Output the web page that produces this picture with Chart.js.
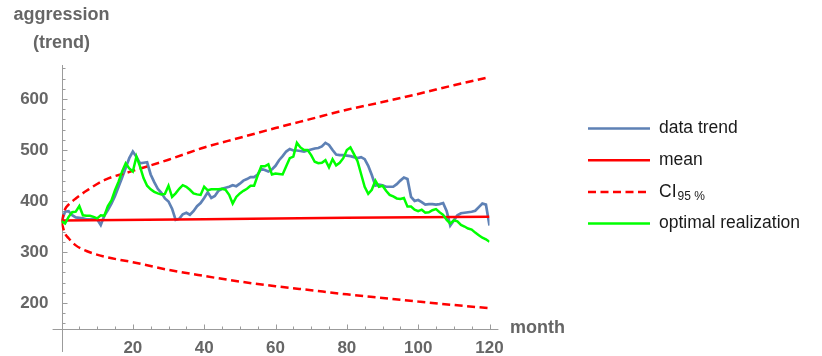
<!DOCTYPE html>
<html>
<head>
<meta charset="utf-8">
<script src="https://cdn.jsdelivr.net/npm/chart.js@4.4.1/dist/chart.umd.min.js"></script>
<style>
  html, body { margin: 0; padding: 0; background: #fff; }
  #wrap { width: 822px; height: 356px; }
</style>
</head>
<body>
<div id="wrap"><canvas id="chart" width="822" height="356"></canvas></div>
<script>
// --- values ---
const months = [
  0, 1, 2, 3, 4, 5, 6, 7, 8, 9, 10, 11, 12, 13, 14, 15, 16, 17, 18, 19,
  20, 21, 22, 23, 24, 25, 26, 27, 28, 29, 30, 31, 32, 33, 34, 35, 36, 37, 38, 39,
  40, 41, 42, 43, 44, 45, 46, 47, 48, 49, 50, 51, 52, 53, 54, 55, 56, 57, 58, 59,
  60, 61, 62, 63, 64, 65, 66, 67, 68, 69, 70, 71, 72, 73, 74, 75, 76, 77, 78, 79,
  80, 81, 82, 83, 84, 85, 86, 87, 88, 89, 90, 91, 92, 93, 94, 95, 96, 97, 98, 99,
  100, 101, 102, 103, 104, 105, 106, 107, 108, 109, 110, 111, 112, 113, 114, 115, 116, 117, 118, 119,
  120
];

const dataTrend = [
  360, 379, 380, 372, 368, 367, 366, 364, 364, 365, 364, 353, 371, 382, 395, 410, 428, 446, 465, 484,
  497, 487, 474, 475, 476, 452, 437, 424, 416, 405, 399, 385, 363, 365, 374, 377, 373, 380, 390, 396,
  406, 417, 406, 410, 420, 424, 426, 428, 431, 429, 434, 440, 443, 447, 447, 452, 463, 461, 458, 462,
  469, 480, 488, 497, 502, 499, 499, 498, 497, 499, 501, 503, 504, 507, 514, 510, 500, 491, 490, 490,
  489, 488, 486, 484, 486, 482, 469, 451, 430, 432, 431, 428, 428, 428, 433, 440, 446, 443, 408, 400,
  402, 398, 393, 394, 394, 393, 394, 396, 380, 352, 362, 372, 376, 377, 378, 379, 381, 388, 395, 393,
  352
];

const optimalRealization = [
  360, 356, 369, 378, 379, 390, 372, 371, 371, 369, 366, 372, 371, 390, 401, 421, 438, 458, 474, 464,
  458, 487, 468, 445, 430, 423, 418, 415, 413, 414, 430, 408, 415, 424, 431, 428, 422, 415, 413, 412,
  428, 421, 423, 423, 423, 424, 422, 412, 395, 408, 415, 420, 424, 430, 430, 450, 468, 468, 472, 452,
  454, 453, 452, 468, 484, 487, 514, 505, 500, 500, 490, 477, 474, 475, 480, 466, 482, 470, 475, 484,
  500, 505, 492, 478, 453, 428, 414, 422, 440, 428, 430, 420, 412, 409, 405, 404, 406, 389, 389, 383,
  380, 383, 377, 378, 382, 384, 378, 373, 363, 356, 362, 360, 353, 350, 346, 344, 338, 333, 328, 325,
  320
];

const meanMonths = [0, 40, 80, 120];
const meanValues = [362, 364, 367, 369];

const ciMonths = [0, 1, 2, 4, 7, 12, 20, 30, 40, 50, 60, 70, 80, 90, 100, 110, 120];
const ciUpper  = [358, 384, 393, 405, 420, 441, 459, 481, 505, 524, 543, 561, 579, 594, 610, 627, 643];
const ciLower  = [358, 336, 327, 313, 302, 291, 280, 265, 253, 242, 233, 225, 217, 210, 203, 196, 190];

const xTickLabels = [20, 40, 60, 80, 100, 120];
const yTickLabels = [200, 300, 400, 500, 600];

// --- styling ---
const BLUE = '#5e81b5';
const RED = '#ff0000';
const GREEN = '#00ff00';
const AXIS_GRAY = '#9b9b9b';
const LABEL_GRAY = '#666666';
const DASH = [8, 4.5];
const LEGEND_FONT = '17.5px "Liberation Sans", Arial, sans-serif';

const toPoints = (xs, ys) => xs.map((x, i) => ({ x: x, y: ys[i] }));

// Mathematica style axes: crossing lines, inward ticks, axis labels, legend
const axesPlugin = {
  id: 'mmaAxes',
  beforeDatasetsDraw(chart) {
    const { ctx, scales: { x, y } } = chart;
    const x0 = Math.round(x.getPixelForValue(0)) + 0.5;
    const y0 = Math.round(y.getPixelForValue(150)) + 0.5;
    ctx.save();
    ctx.strokeStyle = AXIS_GRAY;
    ctx.lineWidth = 1;
    ctx.beginPath();
    ctx.moveTo(x.getPixelForValue(-2.5), y0);
    ctx.lineTo(x.getPixelForValue(122.5), y0);
    ctx.moveTo(x0, y.getPixelForValue(y.max));
    ctx.lineTo(x0, y.getPixelForValue(104));
    // x ticks every 5 months, majors at the labels
    for (let m = 5; m <= 120; m += 5) {
      const px = Math.round(x.getPixelForValue(m)) + 0.5;
      const len = xTickLabels.includes(m) ? 5 : 3;
      ctx.moveTo(px, y0);
      ctx.lineTo(px, y0 - len);
    }
    // y ticks every 20
    for (let v = 160; v <= 660; v += 20) {
      const py = Math.round(y.getPixelForValue(v)) + 0.5;
      const len = yTickLabels.includes(v) ? 5 : 3;
      ctx.moveTo(x0, py);
      ctx.lineTo(x0 + len, py);
    }
    ctx.stroke();
    ctx.restore();
  },
  afterDraw(chart) {
    const { ctx, scales: { x } } = chart;
    const x0 = x.getPixelForValue(0);
    ctx.save();
    ctx.fillStyle = LABEL_GRAY;
    ctx.font = 'bold 18px "Liberation Sans", Arial, sans-serif';
    ctx.textAlign = 'center';
    ctx.textBaseline = 'middle';
    ctx.fillText('aggression', x0, 15);
    ctx.fillText('(trend)', x0, 43);
    ctx.textAlign = 'left';
    ctx.fillText('month', 510, 328);

    // legend
    const rows = [
      { text: 'data trend', color: BLUE, dash: [] },
      { text: 'mean', color: RED, dash: [] },
      { text: 'CI', sub: '95 %', color: RED, dash: DASH },
      { text: 'optimal realization', color: GREEN, dash: [] }
    ];
    rows.forEach((row, i) => {
      const yy = 128.5 + i * 31.7;
      ctx.strokeStyle = row.color;
      ctx.lineWidth = 2.5;
      ctx.setLineDash(row.dash);
      ctx.beginPath();
      ctx.moveTo(588, yy);
      ctx.lineTo(650, yy);
      ctx.stroke();
      ctx.setLineDash([]);
      ctx.fillStyle = '#1a1a1a';
      ctx.font = LEGEND_FONT;
      ctx.textBaseline = 'middle';
      ctx.fillText(row.text, 659, yy);
      if (row.sub) {
        const w = ctx.measureText(row.text).width;
        ctx.font = '12px "Liberation Sans", Arial, sans-serif';
        ctx.fillText(row.sub, 659 + w + 1, yy + 5);
      }
    });
    ctx.restore();
  }
};

const axisTickFont = { family: '"Liberation Sans", Arial, sans-serif', size: 17, weight: 'bold' };

new Chart(document.getElementById('chart'), {
  type: 'line',
  data: {
    datasets: [
      {
        label: 'optimal realization',
        data: toPoints(months, optimalRealization),
        borderColor: GREEN, borderWidth: 2.5, pointRadius: 0, order: 0
      },
      {
        label: 'CI upper',
        data: toPoints(ciMonths, ciUpper),
        borderColor: RED, borderWidth: 2.5, borderDash: DASH, pointRadius: 0,
        cubicInterpolationMode: 'monotone', order: 1
      },
      {
        label: 'CI lower',
        data: toPoints(ciMonths, ciLower),
        borderColor: RED, borderWidth: 2.5, borderDash: DASH, pointRadius: 0,
        cubicInterpolationMode: 'monotone', order: 1
      },
      {
        label: 'mean',
        data: toPoints(meanMonths, meanValues),
        borderColor: RED, borderWidth: 2.5, pointRadius: 0, order: 2
      },
      {
        label: 'data trend',
        data: toPoints(months, dataTrend),
        borderColor: BLUE, borderWidth: 2.7, pointRadius: 0, order: 3
      }
    ]
  },
  options: {
    responsive: false,
    animation: false,
    layout: { padding: { left: 0, top: 65, right: 332.5, bottom: 0 } },
    plugins: { legend: { display: false }, tooltip: { enabled: false } },
    scales: {
      x: {
        type: 'linear', min: 0, max: 120,
        border: { display: false },
        grid: { display: false },
        afterBuildTicks: s => { s.ticks = xTickLabels.map(v => ({ value: v })); },
        afterFit: s => { s.height = 27.5; },
        ticks: { font: axisTickFont, color: LABEL_GRAY, padding: 2, maxRotation: 0, autoSkip: false }
      },
      y: {
        type: 'linear', min: 150, max: 666.7,
        border: { display: false },
        grid: { display: false },
        afterBuildTicks: s => { s.ticks = yTickLabels.map(v => ({ value: v })); },
        afterFit: s => { s.width = 61.5; },
        ticks: { font: axisTickFont, color: LABEL_GRAY, padding: 5, autoSkip: false }
      }
    }
  },
  plugins: [axesPlugin]
});
</script>
</body>
</html>
